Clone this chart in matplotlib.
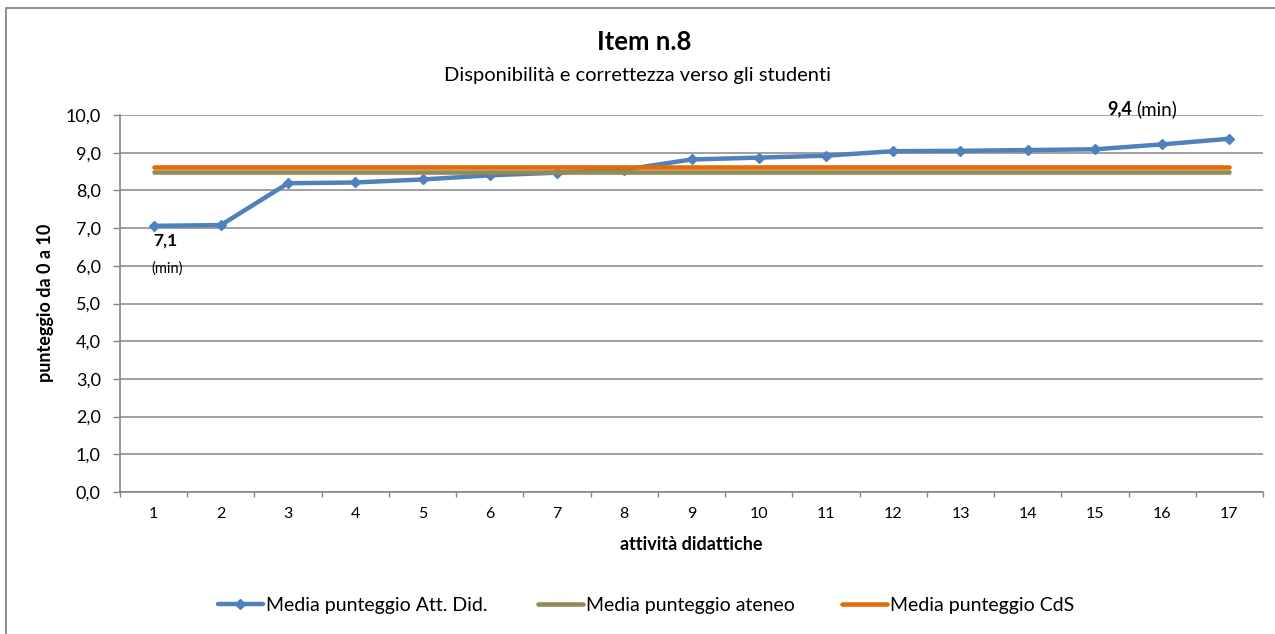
import matplotlib
matplotlib.use("Agg")
import matplotlib.pyplot as plt
from matplotlib.patches import Rectangle
from matplotlib.ticker import FuncFormatter, FixedLocator

plt.rcParams['font.family'] = ['Lato', 'DejaVu Sans']

categories = list(range(1, 18))
att_did = [7.06, 7.08, 8.19, 8.21, 8.29, 8.40, 8.47, 8.55, 8.82, 8.87, 8.92,
           9.04, 9.05, 9.07, 9.09, 9.22, 9.37]
ateneo = [8.50] * 17
cds = [8.61] * 17

title = "Item n.8"
subtitle = "Disponibilità e correttezza verso gli studenti"
xlabel = "attività didattiche"
ylabel = "punteggio da 0 a 10"
labels = ["Media punteggio Att. Did.", "Media punteggio ateneo", "Media punteggio CdS"]

W, H = 1275, 634
fig = plt.figure(figsize=(W / 100, H / 100), dpi=100)


def fx(px):
    return px / W


def fy(py):
    return 1 - py / H


grid_c = '#868686'

# chart border
fig.patches.append(Rectangle((fx(6), fy(640)), fx(1300), fy(8) - fy(640),
                             transform=fig.transFigure, fill=False,
                             edgecolor=grid_c, linewidth=1.3))

ax = fig.add_axes([fx(120), fy(492), fx(1263) - fx(120), fy(115) - fy(492)])

l1, = ax.plot(categories, att_did, color='#4F81BD', linewidth=3.2,
              marker='D', markersize=5.5, zorder=3, solid_capstyle='round')
l2, = ax.plot(categories, ateneo, color='#948A54', linewidth=3.3, zorder=4,
              solid_capstyle='round')
l3, = ax.plot(categories, cds, color='#E36C09', linewidth=3.3, zorder=5,
              solid_capstyle='round')

ax.set_xlim(0.5, 17.5)
ax.set_ylim(0, 10)
ax.set_yticks(range(0, 11))
ax.yaxis.set_major_formatter(FuncFormatter(lambda v, p: f"{v:.1f}".replace('.', ',')))
ax.set_xticks(categories)
ax.set_xticklabels([str(c) for c in categories])
ax.xaxis.set_minor_locator(FixedLocator([c - 0.5 for c in categories] + [17.5]))
ax.tick_params(axis='x', which='major', length=0, pad=11, labelsize=11.5)
ax.tick_params(axis='x', which='minor', length=3.6, color=grid_c, width=1)
ax.tick_params(axis='y', which='major', length=4.8, color=grid_c, width=1,
               labelsize=13, pad=9)

ax.grid(axis='y', color=grid_c, linewidth=1.1, zorder=0)
ax.set_axisbelow(True)
for s in ['top', 'right']:
    ax.spines[s].set_visible(False)
for s in ['left', 'bottom']:
    ax.spines[s].set_color(grid_c)
    ax.spines[s].set_linewidth(1.2)

fig.text(fx(691), fy(544), xlabel, ha='center', va='center', fontsize=13,
         fontweight='bold')
fig.text(fx(46), fy(303), ylabel, ha='center', va='center', fontsize=13,
         fontweight='bold', rotation=90)

fig.text(fx(644), fy(50.5), title, ha='center', va='baseline', fontsize=18.5,
         fontweight='bold')
fig.text(fx(638), fy(81), subtitle, ha='center', va='baseline', fontsize=14.5)

# annotations
ax.annotate("7,1", xy=(categories[0], att_did[0]), xytext=(0, -15),
            textcoords='offset pixels', ha='left', va='center',
            fontsize=12.5, fontweight='bold')
ax.annotate("(min)", xy=(categories[0], att_did[0]), xytext=(-2, -43),
            textcoords='offset pixels', ha='left', va='center', fontsize=10.5)
t94 = ax.annotate("9,4", xy=(categories[-1], att_did[-1]), xytext=(-122, 30),
                  textcoords='offset pixels', ha='left', va='center',
                  fontsize=13, fontweight='bold', annotation_clip=False)
ax.annotate("(min)", xy=(1, 0.5), xycoords=t94, xytext=(3, 0),
            textcoords='offset points', ha='left', va='center',
            fontsize=13.5, annotation_clip=False)

# legend entries placed individually
handle_x = [218, 538, 842]
for h, lab, x0 in zip([l1, l2, l3], labels, handle_x):
    fig.legend([h], [lab], loc='center left',
               bbox_to_anchor=(fx(x0), fy(605)), frameon=False,
               fontsize=14, handlelength=2.3, handletextpad=0.15,
               borderpad=0, borderaxespad=0)

fig.savefig("out.png", dpi=100)
